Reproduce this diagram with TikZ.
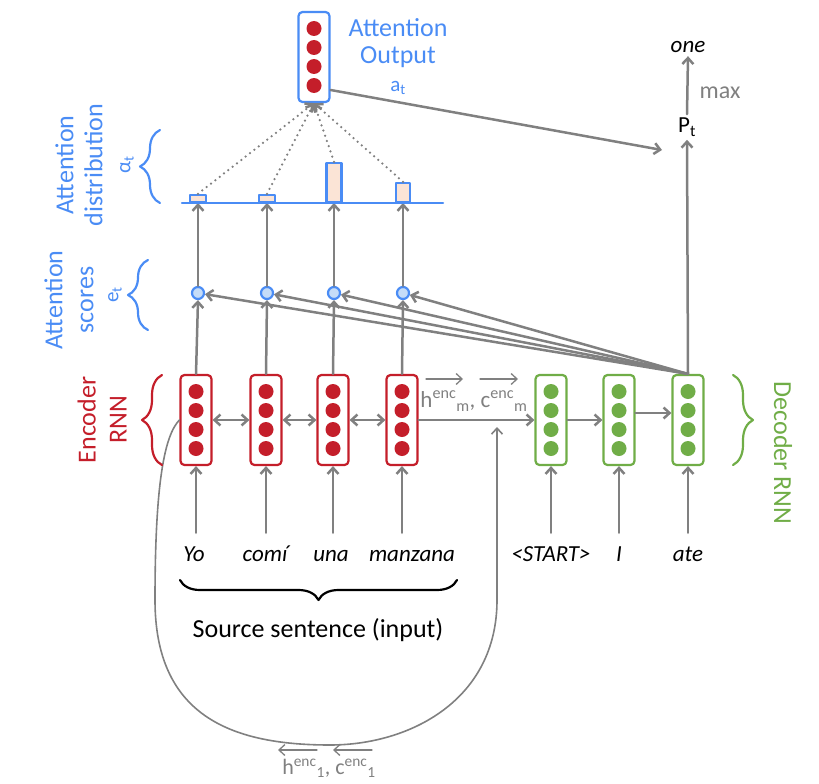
\documentclass[tikz,border=0pt]{standalone}
\usepackage{fontspec}
\setmainfont{Carlito}
\usetikzlibrary{arrows.meta}
\usetikzlibrary{decorations.pathreplacing}
\definecolor{encred}{RGB}{196,30,42}
\definecolor{decgreen}{RGB}{112,173,71}
\definecolor{attblue}{RGB}{74,140,245}
\definecolor{lineg}{RGB}{128,128,128}
\definecolor{scorefill}{RGB}{197,220,248}
\definecolor{barfill}{RGB}{251,228,214}

\begin{document}
\begin{tikzpicture}[line cap=round,line join=round,>={Straight Barb[length=6pt,width=11pt]},x=1pt,y=-1pt,
  conn/.style={draw=lineg,line width=2.5pt},
  cell/.style={draw,rounded corners=4pt,line width=2.2pt,minimum width=31pt,minimum height=90pt,fill=white,inner sep=0pt},
  unit/.style={circle,minimum size=15pt,inner sep=0pt},
  score/.style={circle,draw=attblue,fill=scorefill,line width=2.2pt,minimum size=12pt,inner sep=0pt},
  bar/.style={draw=attblue,fill=barfill,line width=2.2pt,anchor=south,inner sep=0pt},
  lab/.style={font=\fontsize{26}{31}\selectfont,align=center},
  word/.style={font=\fontsize{23}{26}\selectfont\itshape,anchor=base,text height=16pt,text depth=5pt,inner ysep=12pt},
  br/.style={decorate,decoration={brace,amplitude=20pt},line width=2.2pt}]
\useasboundingbox (0,0) rectangle (819,784);
%
% encoder and decoder cells
\foreach \n/\x in {1/196,2/266,3/333,4/402}{
  \node[cell,draw=encred] (e\n) at (\x,420) {};
  \foreach \y in {391.5,410.5,429.5,448.5}
    \node[unit,fill=encred] at (\x,\y) {};
}
\foreach \n/\x in {1/551,2/619,3/688}{
  \node[cell,draw=decgreen] (d\n) at (\x,420) {};
  \foreach \y in {391.5,410.5,429.5,448.5}
    \node[unit,fill=decgreen] at (\x,\y) {};
}
% attention output
\node[cell,draw=attblue] (out) at (314,57) {};
\foreach \y in {28.5,47.5,66.5,85.5}
  \node[unit,fill=encred] at (314,\y) {};
\node[lab,text=attblue,font=\fontsize{26}{27}\selectfont] (outlab) at (398,43) {Attention\\Output};
\node[text=attblue,font=\fontsize{21}{23}\selectfont] (at) at (398,88) {a\textsubscript{t}};
%
% scores and distribution
\foreach \n/\x/\w/\h in {1/198/16/7,2/267/16/7,3/334/15/39,4/403/14/19}{
  \node[score] (s\n) at (\x,293) {};
  \node[bar,minimum width=\w pt,minimum height=\h pt] (b\n) at (\x,203) {};
  \draw[conn,->] (e\n.north) -- (s\n.south);
  \draw[conn,->] (s\n.north) -- (b\n.south);
  \draw[conn,->] (d3.north) -- (s\n);
  \draw[conn,dash pattern=on 0pt off 5.5pt,->] (b\n.north) -- (out.south);
}
\draw[attblue,line width=2.5pt] (182,203) -- (443,203);
%
% recurrent connections
\foreach \a/\b in {1/2,2/3,3/4}
  \draw[conn,<->] (e\a.east) -- (e\b.west);
\draw[conn,->] (e4.east) -- (d1.west);
\draw[conn,->] (d1.east) -- (d2.west);
\draw[conn,->] ([yshift=7pt]d2.east) -- ([yshift=7pt]d3.west);
\draw[lineg,line width=1.6pt,->] (e1.west) .. controls (165,435) and (155,480) .. (155,600)
  .. controls (155,715) and (230,745) .. (330,745)
  .. controls (410,745) and (497,700) .. (497,600) -- (497,427);
\node[text=lineg,font=\fontsize{23}{25}\selectfont] (hm) at (474,401) {h\textsuperscript{enc}\textsubscript{m}, c\textsuperscript{enc}\textsubscript{m}};
\draw[lineg,line width=1.3pt,->] (426,379) -- (463,379);
\draw[lineg,line width=1.3pt,->] (480,379) -- (518,379);
\node[text=lineg,font=\fontsize{22}{24}\selectfont] (hone) at (329,768) {h\textsuperscript{enc}\textsubscript{1}, c\textsuperscript{enc}\textsubscript{1}};
\draw[lineg,line width=1.3pt,->] (317,750) -- (278,750);
\draw[lineg,line width=1.3pt,->] (372,750) -- (333,750);
%
% inputs
\foreach \n/\x/\w in {1/194/Yo,2/265/comí,3/331/una,4/412/manzana}{
  \node[word] (w\n) at (\x,561) {\w};
  \draw[conn,->] (w\n.north -| e\n) -- (e\n.south);
}
\foreach \n/\x/\w in {1/551/<START>,2/619/I,3/688/ate}{
  \node[word] (v\n) at (\x,561) {\w};
  \draw[conn,->] (v\n.north) -- (d\n.south);
}
\draw[br] (457,580) -- (180,580);
\node[lab] (src) at (318,630) {Source sentence (input)};
%
% output
\node[font=\fontsize{23}{25}\selectfont] (pt) at (687,127) {P\textsubscript{t}};
\node[font=\fontsize{23}{25}\selectfont\itshape] (one) at (688,47) {one};
\coordinate (pin) at (662,150);
\draw[conn,->] (d3.north) -- (pt.south);
\draw[conn,->] (pt.north) -- (one.south);
\node[text=lineg,font=\fontsize{24}{26}\selectfont] (mx) at (720,93) {max};
\draw[conn,->] ([yshift=-33pt]out.east) -- (pin);
%
% side labels
\draw[br,attblue] (160,203) -- (160,130);
\node[text=attblue,rotate=90,font=\fontsize{21}{23}\selectfont] (alpha) at (127,165) {α\textsubscript{t}};
\node[lab,text=attblue,rotate=90,font=\fontsize{26}{29}\selectfont] (distlab) at (79,165) {Attention\\distribution};
\draw[br,attblue] (148,330) -- (148,260);
\node[text=attblue,rotate=90,font=\fontsize{21}{23}\selectfont] (et) at (115,295) {e\textsubscript{t}};
\node[lab,text=attblue,rotate=90] (scorelab) at (69,300) {Attention\\scores};
\draw[br,encred] (162,465) -- (162,375);
\node[lab,text=encred,rotate=90] (enclab) at (102,420) {Encoder\\RNN};
\draw[br,decgreen] (733,375) -- (733,465);
\node[lab,text=decgreen,rotate=-90] (declab) at (783,453) {Decoder RNN};
\end{tikzpicture}
\end{document}
